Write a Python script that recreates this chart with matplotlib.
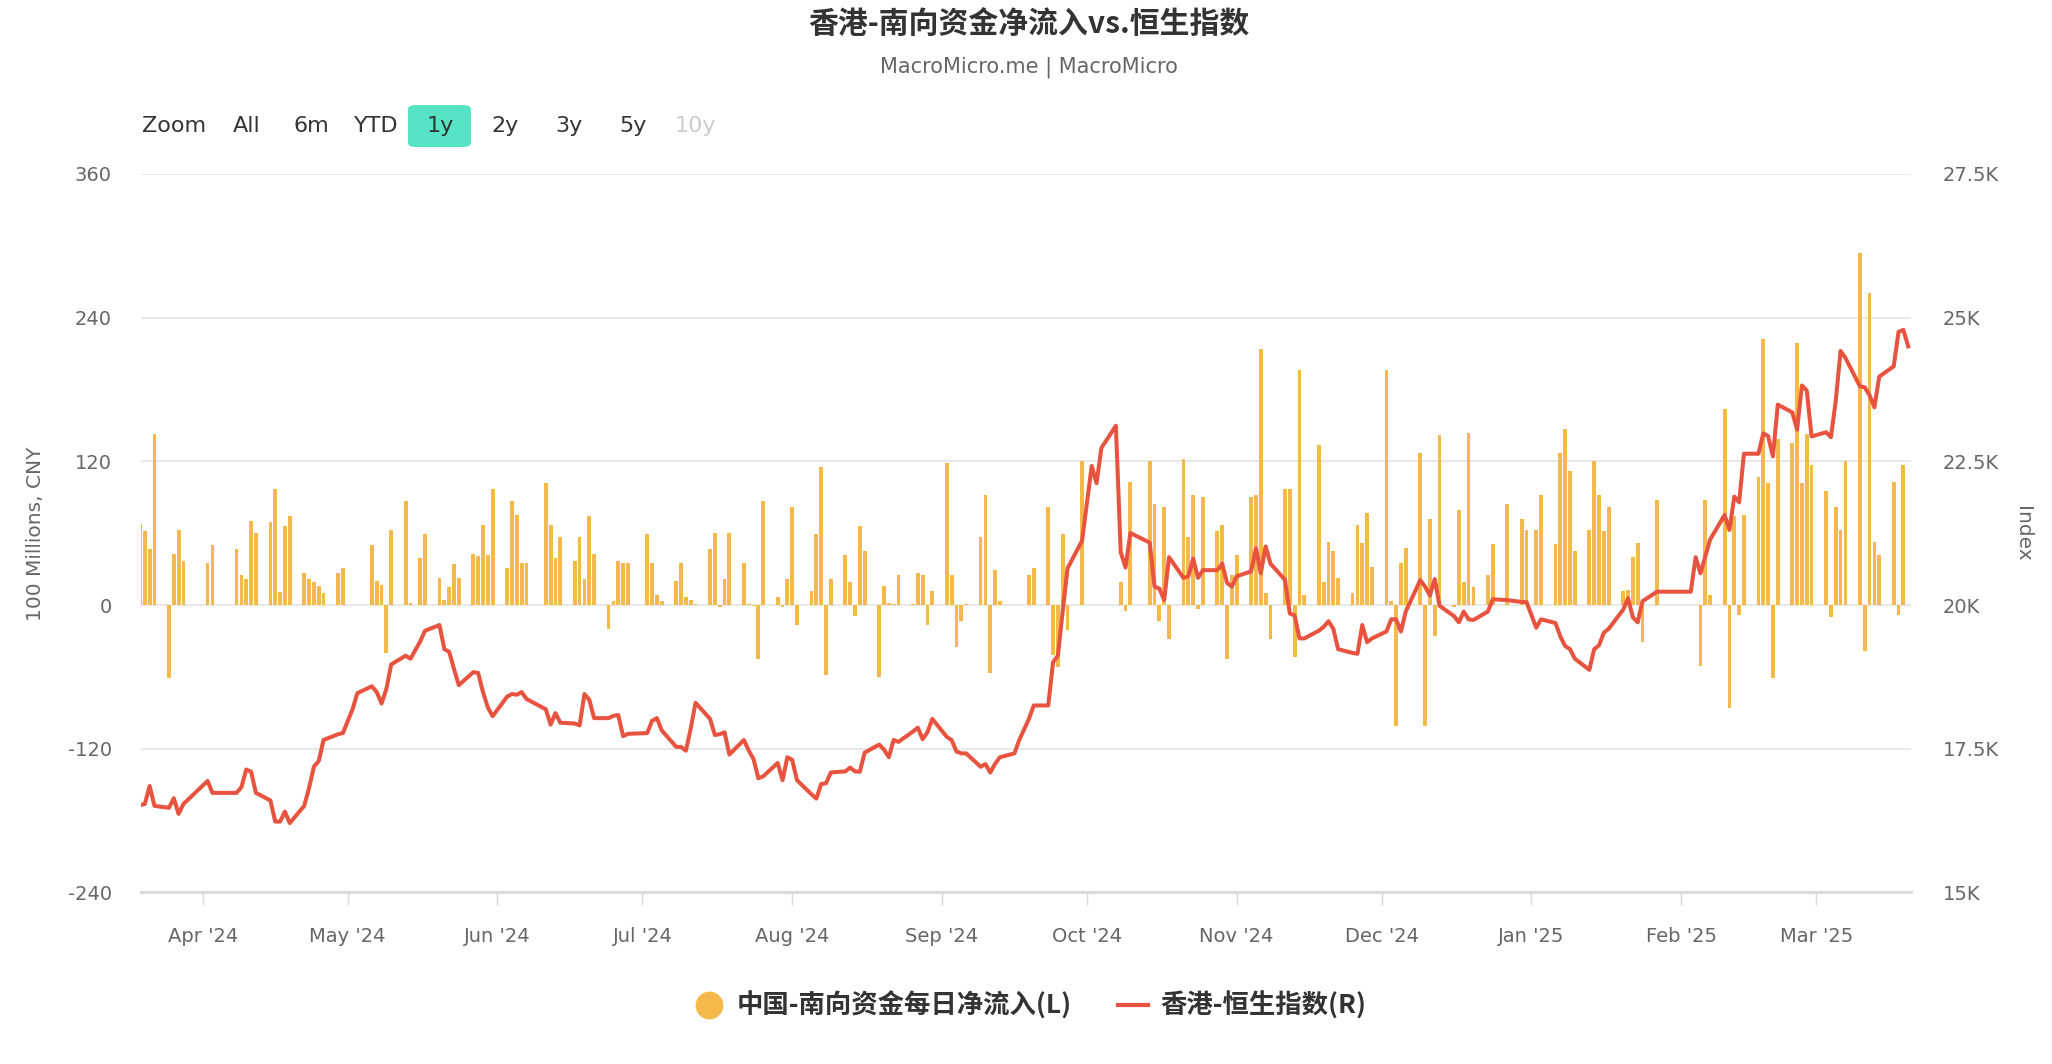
import numpy as np
import pandas as pd
import matplotlib
matplotlib.use("Agg")
import matplotlib.pyplot as plt
import matplotlib.dates as mdates
from matplotlib.lines import Line2D
from matplotlib.patches import FancyBboxPatch
from matplotlib.ticker import FuncFormatter

plt.rcParams['font.family'] = ['DejaVu Sans', 'Noto Sans CJK SC']
plt.rcParams['axes.unicode_minus'] = False
CJK = ['Noto Sans CJK SC', 'DejaVu Sans']

# --- dades llegides del gràfic (dies de negociació HK) ---
trade_dates = [
    "2024-03-19", "2024-03-20", "2024-03-21", "2024-03-22", "2024-03-25", "2024-03-26", "2024-03-27", "2024-03-28",
    "2024-04-02", "2024-04-03", "2024-04-05", "2024-04-08", "2024-04-09", "2024-04-10", "2024-04-11", "2024-04-12",
    "2024-04-15", "2024-04-16", "2024-04-17", "2024-04-18", "2024-04-19", "2024-04-22", "2024-04-23", "2024-04-24",
    "2024-04-25", "2024-04-26", "2024-04-29", "2024-04-30",
    "2024-05-02", "2024-05-03", "2024-05-06", "2024-05-07", "2024-05-08", "2024-05-09", "2024-05-10", "2024-05-13",
    "2024-05-14", "2024-05-16", "2024-05-17", "2024-05-20", "2024-05-21", "2024-05-22", "2024-05-23", "2024-05-24",
    "2024-05-27", "2024-05-28", "2024-05-29", "2024-05-30", "2024-05-31",
    "2024-06-03", "2024-06-04", "2024-06-05", "2024-06-06", "2024-06-07", "2024-06-11", "2024-06-12", "2024-06-13",
    "2024-06-14", "2024-06-17", "2024-06-18", "2024-06-19", "2024-06-20", "2024-06-21", "2024-06-24", "2024-06-25",
    "2024-06-26", "2024-06-27", "2024-06-28",
    "2024-07-02", "2024-07-03", "2024-07-04", "2024-07-05", "2024-07-08", "2024-07-09", "2024-07-10", "2024-07-11",
    "2024-07-12", "2024-07-15", "2024-07-16", "2024-07-17", "2024-07-18", "2024-07-19", "2024-07-22", "2024-07-23",
    "2024-07-24", "2024-07-25", "2024-07-26", "2024-07-29", "2024-07-30", "2024-07-31",
    "2024-08-01", "2024-08-02", "2024-08-05", "2024-08-06", "2024-08-07", "2024-08-08", "2024-08-09", "2024-08-12",
    "2024-08-13", "2024-08-14", "2024-08-15", "2024-08-16", "2024-08-19", "2024-08-20", "2024-08-21", "2024-08-22",
    "2024-08-23", "2024-08-26", "2024-08-27", "2024-08-28", "2024-08-29", "2024-08-30",
    "2024-09-02", "2024-09-03", "2024-09-04", "2024-09-05", "2024-09-06", "2024-09-09", "2024-09-10", "2024-09-11",
    "2024-09-12", "2024-09-13", "2024-09-16", "2024-09-17", "2024-09-19", "2024-09-20", "2024-09-23", "2024-09-24",
    "2024-09-25", "2024-09-26", "2024-09-27", "2024-09-30",
    "2024-10-02", "2024-10-03", "2024-10-04", "2024-10-07", "2024-10-08", "2024-10-09", "2024-10-10", "2024-10-14",
    "2024-10-15", "2024-10-16", "2024-10-17", "2024-10-18", "2024-10-21", "2024-10-22", "2024-10-23", "2024-10-24",
    "2024-10-25", "2024-10-28", "2024-10-29", "2024-10-30", "2024-10-31",
    "2024-11-01", "2024-11-04", "2024-11-05", "2024-11-06", "2024-11-07", "2024-11-08", "2024-11-11", "2024-11-12",
    "2024-11-13", "2024-11-14", "2024-11-15", "2024-11-18", "2024-11-19", "2024-11-20", "2024-11-21", "2024-11-22",
    "2024-11-25", "2024-11-26", "2024-11-27", "2024-11-28", "2024-11-29",
    "2024-12-02", "2024-12-03", "2024-12-04", "2024-12-05", "2024-12-06", "2024-12-09", "2024-12-10", "2024-12-11",
    "2024-12-12", "2024-12-13", "2024-12-16", "2024-12-17", "2024-12-18", "2024-12-19", "2024-12-20", "2024-12-23",
    "2024-12-24", "2024-12-27", "2024-12-30", "2024-12-31",
    "2025-01-02", "2025-01-03", "2025-01-06", "2025-01-07", "2025-01-08", "2025-01-09", "2025-01-10", "2025-01-13",
    "2025-01-14", "2025-01-15", "2025-01-16", "2025-01-17", "2025-01-20", "2025-01-21", "2025-01-22", "2025-01-23",
    "2025-01-24", "2025-01-27", "2025-01-28",
    "2025-02-03", "2025-02-04", "2025-02-05", "2025-02-06", "2025-02-07", "2025-02-10", "2025-02-11", "2025-02-12",
    "2025-02-13", "2025-02-14", "2025-02-17", "2025-02-18", "2025-02-19", "2025-02-20", "2025-02-21", "2025-02-24",
    "2025-02-25", "2025-02-26", "2025-02-27", "2025-02-28",
    "2025-03-03", "2025-03-04", "2025-03-05", "2025-03-06", "2025-03-07", "2025-03-10", "2025-03-11", "2025-03-12",
    "2025-03-13", "2025-03-14", "2025-03-17", "2025-03-18", "2025-03-19", "2025-03-20",
]

# 中国-南向资金每日净流入 (100 Millions, CNY); None = 南向不开放
flow_values = [
    68, 62, 47, 143, -61, 43, 63, 37,
    35, 50, None, 47, 25, 22, 70, 60, 69, 97, 11, 66, 74, 27, 22, 19, 16, 10, 27, 31,
    None, None, 50, 20, 17, -40, 63, 87, 2, 39, 59, 23, 4, 15, 34, 23, 43, 41, 67, 42, 97,
    31, 87, 75, 35, 35, 102, 67, 39, 57, 37, 57, 22, 74, 43, -20, 3, 37, 35, 35,
    59, 35, 8, 3, 20, 35, 7, 4, 1, 47, 60, -2, 22, 60, 35, 1, -1, -45, 87, 7, -2, 22,
    82, -17, 12, 59, 115, -58, 22, 42, 19, -9, 66, 45, -60, 16, 2, 1, 25, 1, 27, 25, -17, 12,
    119, 25, -35, -13, 1, 57, 92, -57, 29, 3, None, None, 25, 31, 82, -42, -52, 59, -21, 120,
    None, None, None, None, 19, -5, 103, 120, 84, -13, 82, -28, 122, 57, 92, -3, 90, 62, 67, -45, 25,
    42, 90, 92, 214, 10, -28, 97, 97, -43, 196, 8, 134, 19, 53, 45, 23, 10, 67, 52, 77, 32,
    196, 3, -101, 35, 48, 127, -101, 72, -26, 142, -2, 79, 19, 144, 15, 25, 51, 84, 72, 63,
    63, 92, 51, 127, 147, 112, 45, 63, 120, 92, 62, 82, 12, 13, 40, 52, -31, 88, None,
    None, None, -51, 88, 8, 164, -86, 74, -8, 75, 107, 222, 102, -61, 139, 135, 219, 102, 143, 117,
    95, -10, 82, 63, 120, 294, -38, 261, 53, 42, 103, -8, 117, None,
]

# 香港-恒生指数
hsi_values = [
    16520, 16540, 16853, 16507, 16473, 16640, 16367, 16540,
    16940, 16733, 16733, 16733, 16833, 17140, 17100, 16733, 16600, 16233, 16233, 16407, 16207, 16507, 16820, 17187,
    17287, 17653, 17753, 17773,
    18187, 18467, 18587, 18487, 18287, 18540, 18967, 19120, 19067, 19367, 19553, 19653, 19233, 19187, 18887, 18607,
    18833, 18820, 18487, 18220, 18067,
    18407, 18453, 18440, 18487, 18367, 18187, 17920, 18120, 17953, 17940, 17907, 18453, 18353, 18033, 18033, 18073,
    18087, 17720, 17760,
    17773, 17987, 18033, 17820, 17533, 17533, 17467, 17853, 18300, 18020, 17740, 17753, 17787, 17400, 17653, 17470,
    17320, 16987, 17020, 17253, 16953, 17353,
    17307, 16953, 16707, 16633, 16887, 16900, 17087, 17107, 17173, 17107, 17100, 17433, 17573, 17487, 17353, 17653,
    17620, 17800, 17867, 17667, 17787, 18020,
    17707, 17653, 17453, 17420, 17420, 17187, 17233, 17087, 17240, 17353, 17420, 17653, 18020, 18253, 18253, 19007,
    19120, 19900, 20640, 21120,
    22420, 22120, 22733, 23120, 20920, 20653, 21253, 21087, 20320, 20287, 20087, 20833, 20473, 20500, 20807, 20473,
    20607, 20607, 20720, 20387, 20320,
    20500, 20587, 20987, 20553, 21020, 20720, 20440, 19853, 19820, 19420, 19420, 19553, 19620, 19720, 19587, 19233,
    19167, 19153, 19653, 19353, 19420,
    19540, 19753, 19753, 19540, 19887, 20433, 20320, 20167, 20453, 19987, 19807, 19700, 19887, 19753, 19740, 19887,
    20100, 20087, 20053, 20053,
    19607, 19753, 19687, 19453, 19287, 19233, 19067, 18873, 19233, 19300, 19520, 19587, 19920, 20120, 19787, 19700,
    20067, 20233, 20233,
    20233, 20833, 20553, 20850, 21140, 21567, 21307, 21887, 21787, 22633, 22633, 22987, 22940, 22587, 23487, 23353,
    23053, 23820, 23733, 22933,
    23007, 22920, 23550, 24420, 24300, 23807, 23787, 23653, 23440, 23973, 24153, 24753, 24787, 24500,
]

left_ticks = [-240, -120, 0, 120, 240, 360]
right_ticks = [15000, 17500, 20000, 22500, 25000, 27500]
right_labels = ["15K", "17.5K", "20K", "22.5K", "25K", "27.5K"]
range_buttons = ["Zoom", "All", "6m", "YTD", "1y", "2y", "3y", "5y", "10y"]

bar_color = '#F5B94B'
line_color = '#E8533F'

dates = pd.to_datetime(trade_dates)
flow = np.array([np.nan if v is None else v for v in flow_values], dtype=float)
hsi = np.array(hsi_values, dtype=float)
has_flow = ~np.isnan(flow)

fig = plt.figure(figsize=(20.52, 10.64), dpi=100)
ax = fig.add_axes([0.0687, 0.1612, 0.8626, 0.6753])
ax2 = ax.twinx()

ax.bar(dates[has_flow], flow[has_flow], width=0.78, color=bar_color, zorder=2)
ax2.plot(dates, hsi, color=line_color, lw=2.9, zorder=3)

ax.set_xlim(pd.Timestamp('2024-03-19 05:00'), pd.Timestamp('2025-03-20 14:00'))
ax.set_ylim(-240, 360)
ax.set_yticks(left_ticks)
ax2.set_ylim(15000, 27500)
ax2.set_yticks(right_ticks)
ax2.set_yticklabels(right_labels)

ax.grid(axis='y', color='#e6e6e6', lw=1.3)
ax.set_axisbelow(True)
for a in (ax, ax2):
    for s in ('top', 'left', 'right'):
        a.spines[s].set_visible(False)
ax2.spines['bottom'].set_visible(False)
ax.spines['bottom'].set_color('#d8d8d8')
ax.spines['bottom'].set_linewidth(2)

ax.xaxis.set_major_locator(mdates.MonthLocator())
ax.xaxis.set_major_formatter(FuncFormatter(lambda v, p: mdates.num2date(v).strftime("%b '%y")))
ax.tick_params(axis='x', length=9.5, width=1, color='#d8d8d8', pad=15, labelsize=14, labelcolor='#666666')
ax.tick_params(axis='y', length=0, pad=21, labelsize=14, labelcolor='#666666')
ax2.tick_params(axis='y', length=0, pad=23, labelsize=14, labelcolor='#666666')

fig.text(0.0171, 0.4986, "100 Millions, CNY", rotation=90, ha='center', va='center', fontsize=14.5, color='#666666')
fig.text(0.9854, 0.4986, "Index", rotation=270, ha='center', va='center', fontsize=14.5, color='#666666')

# títol
fig.text(0.5013, 0.977, "香港-南向资金净流入vs.恒生指数", ha='center', va='center', fontsize=21.5,
         color='#333333', family=CJK, weight='bold')
fig.text(0.5013, 0.937, "MacroMicro.me | MacroMicro", ha='center', va='center', fontsize=15, color='#666666')

# botons de rang
btn_x = [0.0848, 0.1204, 0.1516, 0.1832, 0.2144, 0.2461, 0.2773, 0.3085, 0.3387]
fig.add_artist(FancyBboxPatch((0.1988, 0.8618), 0.0307, 0.0395, boxstyle="round,pad=0,rounding_size=0.004",
                              transform=fig.transFigure, facecolor='#54E3C3', edgecolor='none'))
for name, bx in zip(range_buttons, btn_x):
    col = '#cccccc' if name == '10y' else '#333333'
    fig.text(bx, 0.8816, name, ha='center', va='center', fontsize=16, color=col)

# llegenda
handles = [Line2D([], [], marker='o', ls='none', markersize=19, color=bar_color),
           Line2D([], [], color=line_color, lw=3)]
fig.legend(handles, ["中国-南向资金每日净流入(L)", "香港-恒生指数(R)"], loc='center',
           bbox_to_anchor=(0.502, 0.0545), ncol=2, frameon=False, handlelength=1.15,
           handletextpad=0.45, columnspacing=1.75, labelcolor='#333333',
           prop={'family': CJK, 'size': 19, 'weight': 'bold'})

fig.savefig("out.png", dpi=100)
